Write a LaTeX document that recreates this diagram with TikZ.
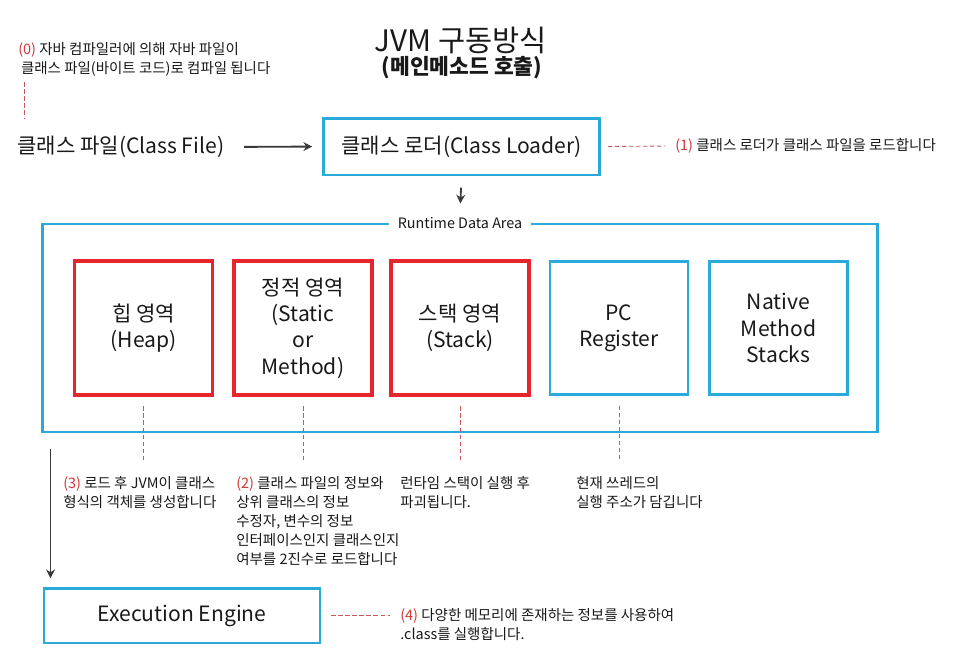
\documentclass[tikz,border=0pt]{standalone}
\usepackage{fontspec}
\setmainfont{Noto Sans CJK KR}
\usetikzlibrary{arrows.meta, positioning, calc}

\definecolor{jvmcyan}{HTML}{2AAAD8}
\definecolor{jvmred}{HTML}{E8242C}
\definecolor{notered}{HTML}{D03A3A}
\definecolor{leadred}{HTML}{C8565A}
\definecolor{arrowgray}{HTML}{3A3A3A}
\newcommand{\stepnum}[1]{\textcolor{notered}{#1}}

\begin{document}
\begin{tikzpicture}[
    x=0.025cm, y=-0.025cm,
    every node/.style={font=\fontsize{15}{18.8}\selectfont, text=black!90},
    cyanbox/.style={rectangle, draw=jvmcyan, line width=2pt, align=center},
    areabox/.style={cyanbox, minimum width=3.45cm, minimum height=3.33cm},
    redbox/.style={rectangle, draw=jvmred, line width=2.8pt, align=center, minimum width=3.45cm, minimum height=3.33cm},
    note/.style={font=\fontsize{10.3}{13.5}\selectfont, align=left, inner sep=0pt},
    title/.style={font=\fontsize{21}{24}\selectfont},
    arrow/.style={-{Stealth[length=2.2mm, width=2.2mm]}, line width=1.3pt, arrowgray},
    leader/.style={densely dashed, leadred, line width=0.6pt}
]

% canvas
\fill[white] (0,0) rectangle (953,652);
\useasboundingbox (0,0) rectangle (953,652);

% ============ TITLE ============
\node[title] (title) at (461,40) {JVM 구동방식};
\node[font=\fontsize{15.3}{18}\selectfont\bfseries] (subtitle) at (462,68) {(메인메소드 호출)};

% ============ CLASS FILE & CLASS LOADER ============
\node[note, anchor=north west] (note0) at (18,42) {\stepnum{(0)} 자바 컴파일러에 의해 자바 파일이\\\hspace{2pt}클래스 파일(바이트 코드)로 컴파일 됩니다};
\coordinate (c0) at (24,118);
\node[anchor=west, inner sep=0pt] (classfile) at (17,147) {클래스 파일(Class File)};
\node[cyanbox, minimum width=6.9cm, minimum height=1.42cm] (loader) at (461.5,146.5) {클래스 로더(Class Loader)};
\node[note, anchor=west] (note1) at (675,146) {\stepnum{(1)} 클래스 로더가 클래스 파일을 로드합니다};

\draw[leader] (note0.south west -| c0) ++(0,6) -- (c0);
\draw[arrow, shorten <=14pt, shorten >=7pt] (classfile.east) -- (loader.west);
\draw[leader, shorten <=5pt, shorten >=7pt] (loader.east) -- (note1.west);

% ============ RUNTIME DATA AREA ============
\node[cyanbox, minimum width=20.85cm, minimum height=5.2cm] (rda) at (460,328) {};
\node[fill=white, font=\fontsize{10.2}{12}\selectfont, inner xsep=6pt] (rdatitle) at (rda.north) {Runtime Data Area};
\draw[arrow, shorten <=8pt, shorten >=6pt] (loader.south) -- (rdatitle.north);

\node[redbox] (heap) at (143.5,328) {힙 영역\\(Heap)};
\node[redbox] (static) at (303,328) {정적 영역\\(Static\\or\\Method)};
\node[redbox] (stack) at (460,328) {스택 영역\\(Stack)};
\node[areabox] (pcreg) at (619,328) {PC\\Register};
\node[areabox] (native) at (778.5,328) {Native\\Method\\Stacks};

% notes below the areas
\node[note, anchor=north west] (note3) at (63,476) {\stepnum{(3)} 로드 후 JVM이 클래스\\형식의 객체를 생성합니다};
\node[note, anchor=north west] (note2) at (236,476) {\stepnum{(2)} 클래스 파일의 정보와\\상위 클래스의 정보\\수정자, 변수의 정보\\인터페이스인지 클래스인지\\여부를 2진수로 로드합니다};
\node[note, anchor=north west] (notestack) at (400,476) {런타임 스택이 실행 후\\파괴됩니다.};
\node[note, anchor=north west] (notepc) at (576,476) {현재 쓰레드의\\실행 주소가 담깁니다};

\draw[leader, shorten <=7pt, shorten >=11pt] (heap.south) -- (heap.south |- note3.north);
\draw[leader, shorten <=7pt, shorten >=11pt] (static.south) -- (static.south |- note2.north);
\draw[leader, shorten <=7pt, shorten >=11pt] (stack.south) -- (stack.south |- notestack.north);
\draw[leader, shorten <=7pt, shorten >=11pt] (pcreg.south) -- (pcreg.south |- notepc.north);

% ============ EXECUTION ENGINE ============
\node[cyanbox, minimum width=6.9cm, minimum height=1.37cm] (exec) at (182,615.5) {Execution Engine};
\node[note, anchor=north west] (note4) at (400,608) {\stepnum{(4)} 다양한 메모리에 존재하는 정보를 사용하여\\.class를 실행합니다.};

\draw[arrow, shorten <=11pt, shorten >=6pt] ([xshift=0.225cm]rda.south west) -- ([xshift=0.225cm]rda.south west |- exec.north);
\draw[leader, shorten <=7pt, shorten >=7pt] (exec.east) -- (exec.east -| note4.west);

\end{tikzpicture}
\end{document}
